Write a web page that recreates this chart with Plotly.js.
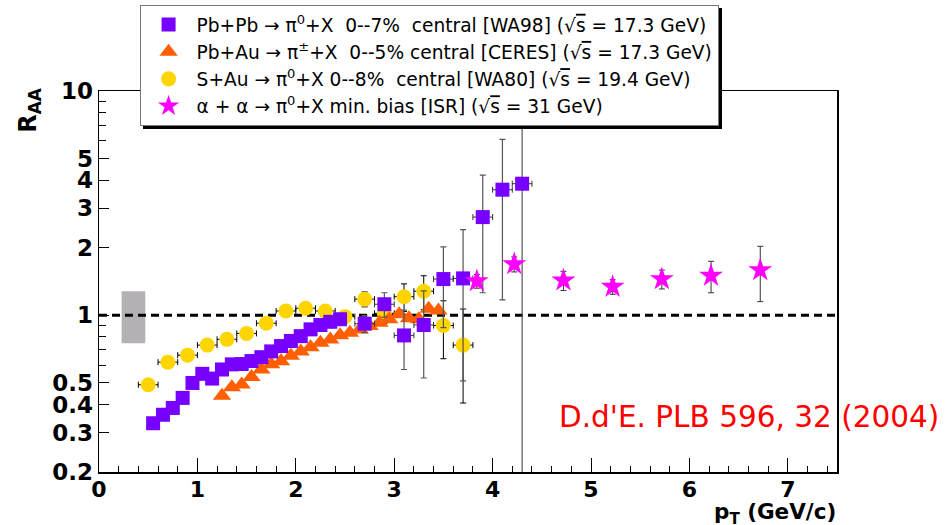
<!DOCTYPE html>
<html>
<head>
<meta charset="utf-8">
<script src="https://cdn.plot.ly/plotly-3.0.1.min.js"></script>
<style>
html,body{margin:0;padding:0;background:#fff;}
#chart{width:948px;height:525px;}
#chart .legend rect.bg{filter:drop-shadow(3px 3px 0 #000);}
</style>
</head>
<body>
<div id="chart"></div>
<script>
// ---- data ----
// WA98 Pb+Pb -> pi0 (0-7% central)
const wa98PT   = [0.55,0.65,0.75,0.85,0.95,1.05,1.15,1.25,1.35,1.45,1.55,1.65,1.75,1.85,1.95,2.05,2.15,2.25,2.35,2.45,2.7,2.9,3.1,3.3,3.5,3.7,3.9,4.1,4.3];
const wa98R    = [0.330,0.360,0.386,0.428,0.499,0.548,0.522,0.573,0.604,0.606,0.625,0.650,0.690,0.729,0.768,0.807,0.865,0.905,0.935,0.960,0.917,1.12,0.813,0.905,1.45,1.46,2.74,3.63,3.86];
const wa98ErrUp= [0,0,0,0,0,0,0,0,0,0,0,0,0,0,0,0.02,0.03,0.03,0.04,0.04,0.08,0.14,0.24,0.38,0.57,0.95,1.48,2.46,7.0];
const wa98ErrDn= [0,0,0,0,0,0,0,0,0,0,0,0,0,0,0,0.02,0.03,0.03,0.04,0.04,0.08,0.14,0.24,0.38,0.57,0.95,1.48,2.46,3.85];
const wa98XErr = [0.05,0.05,0.05,0.05,0.05,0.05,0.05,0.05,0.05,0.05,0.05,0.05,0.05,0.05,0.05,0.05,0.05,0.05,0.05,0.05,0.1,0.1,0.1,0.1,0.1,0.1,0.1,0.1,0.1];

// CERES Pb+Au -> pi+- (0-5% central)
const ceresPT = [1.25,1.35,1.45,1.55,1.65,1.75,1.85,1.95,2.05,2.15,2.25,2.35,2.45,2.55,2.65,2.75,2.85,2.95,3.05,3.15,3.25,3.35,3.45];
const ceresR  = [0.438,0.477,0.491,0.530,0.573,0.604,0.624,0.660,0.690,0.720,0.754,0.780,0.815,0.836,0.865,0.895,0.927,0.960,1.010,0.970,0.960,1.070,1.050];

// WA80 S+Au -> pi0 (0-8% central)
const wa80PT  = [0.5,0.7,0.9,1.1,1.3,1.5,1.7,1.9,2.1,2.3,2.5,2.7,2.9,3.1,3.3,3.5,3.7];
const wa80R   = [0.490,0.618,0.664,0.736,0.781,0.830,0.921,1.045,1.075,1.045,0.986,1.18,1.02,1.21,1.28,0.90,0.736];
const wa80Err = [0.01,0.01,0.01,0.01,0.01,0.01,0.02,0.02,0.03,0.03,0.05,0.09,0.10,0.17,0.22,0.26,0.33];
const wa80XErr= [0.1,0.1,0.1,0.1,0.1,0.1,0.1,0.1,0.1,0.1,0.1,0.1,0.1,0.1,0.1,0.1,0.1];

// ISR alpha+alpha -> pi0 (min. bias)
const isrPT  = [3.84,4.22,4.72,5.22,5.72,6.22,6.72];
const isrR   = [1.42,1.69,1.43,1.34,1.45,1.50,1.59];
const isrErr = [0.10,0.13,0.14,0.10,0.14,0.24,0.44];

// reference line R_AA = 1 and normalisation uncertainty box
const unityX = [0, 7.5];
const unityY = [1, 1];
const normBoxPT = [0.23, 0.47];
const normBoxR  = [0.75, 1.28];

// axis ticks
const yTickVals  = [0.2,0.3,0.4,0.5,1,2,3,4,5,10];
const yTickText  = ['0.2','0.3','0.4','0.5','1','2','3','4','5','10'];
const yMinorVals = [0.6,0.7,0.8,0.9,6,7,8,9];
const xTickVals  = [0,1,2,3,4,5,6,7];

const sqrtS = '√<span style="text-decoration:overline">s</span>';
const nb = '\u00a0';
const names = [
  'Pb+Pb → π<sup>0</sup>+X'+nb+nb+'0--7%'+nb+nb+'central [WA98] ('+sqrtS+' = 17.3 GeV)',
  'Pb+Au → π<sup>±</sup>+X'+nb+nb+'0--5% central [CERES] ('+sqrtS+' = 17.3 GeV)',
  'S+Au → π<sup>0</sup>+X 0--8%'+nb+nb+'central [WA80] ('+sqrtS+' = 19.4 GeV)',
  'α + α → π<sup>0</sup>+X min. bias [ISR] ('+sqrtS+' = 31 GeV)'
];

const FONT = 'DejaVu Sans, Liberation Sans, Arial, sans-serif';

const traces = [
  {x:[normBoxPT[0],normBoxPT[1],normBoxPT[1],normBoxPT[0],normBoxPT[0]],
   y:[normBoxR[0],normBoxR[0],normBoxR[1],normBoxR[1],normBoxR[0]],
   type:'scatter',mode:'lines',fill:'toself',fillcolor:'#b3b1b4',line:{width:0,color:'#b3b1b4'},
   showlegend:false,hoverinfo:'skip'},
  {x:unityX,y:unityY,type:'scatter',mode:'lines',line:{color:'#000',width:3,dash:'8px,5px'},
   showlegend:false,hoverinfo:'skip'},
  {x:wa80PT,y:wa80R,type:'scatter',mode:'markers',name:names[2],legendrank:3,legendgroup:'c',
   marker:{symbol:'circle',size:15,color:'#ffd500'},
   error_y:{type:'data',array:wa80Err,color:'#000',thickness:1,width:3},
   error_x:{type:'data',array:wa80XErr,color:'#000',thickness:1,width:3}},
  {x:ceresPT,y:ceresR,type:'scatter',mode:'markers',name:names[1],legendrank:2,legendgroup:'b',
   marker:{symbol:'triangle-up',size:16,color:'#ff5f00'}},
  {x:wa98PT,y:wa98R,type:'scatter',mode:'markers',name:names[0],legendrank:1,legendgroup:'a',
   marker:{symbol:'square',size:14,color:'#7700ff'},
   error_y:{type:'data',symmetric:false,array:wa98ErrUp,arrayminus:wa98ErrDn,color:'#555',thickness:1.2,width:3},
   error_x:{type:'data',array:wa98XErr,color:'#333',thickness:1,width:3}},
  {x:isrPT,y:isrR,type:'scatter',mode:'markers',name:names[3],legendrank:4,legendgroup:'d',
   marker:{symbol:'star',size:18,color:'#ff00ff'},
   error_y:{type:'data',array:isrErr,color:'#333',thickness:1,width:3}}
];

const layout = {
  width:948,height:525,
  paper_bgcolor:'#fff',plot_bgcolor:'#fff',
  margin:{l:99,r:111,t:91,b:53,autoexpand:false},
  font:{family:FONT,color:'#000'},
  showlegend:true,
  legend:{x:0.055,xanchor:'left',y:1.226,yanchor:'top',bgcolor:'#fff',bordercolor:'#777',borderwidth:1,
          font:{size:18.6,family:FONT},traceorder:'grouped',tracegroupgap:0,itemwidth:46},
  xaxis:{range:[0,7.5],showgrid:false,zeroline:false,showline:true,linecolor:'#000',linewidth:1.5,mirror:true,
         ticks:'inside',ticklen:14,tickwidth:1,tickcolor:'#000',tickvals:xTickVals,ticklabelstandoff:-3,
         tickfont:{size:22,family:FONT,weight:'bold'},
         minor:{dtick:0.2,ticks:'inside',ticklen:6,tickcolor:'#000',tickwidth:1,showgrid:false}},
  yaxis:{type:'log',range:[Math.log10(0.2),1],showgrid:false,zeroline:false,showline:true,linecolor:'#000',linewidth:1.5,mirror:true,
         ticks:'inside',ticklen:10,tickwidth:1,tickcolor:'#000',tickvals:yTickVals,ticktext:yTickText,
         tickfont:{size:23,family:FONT,weight:'bold'},
         minor:{tickvals:yMinorVals,ticks:'inside',ticklen:7,tickcolor:'#000',tickwidth:1,showgrid:false}},
  annotations:[
    {text:'<b>R<sub>AA</sub></b>',xref:'paper',yref:'paper',x:-0.094,y:1.01,xanchor:'center',yanchor:'top',
     textangle:-90,showarrow:false,font:{size:24,family:FONT}},
    {text:'<b>p<sub>T</sub> (GeV/c)</b>',xref:'paper',yref:'paper',x:1.0,y:-0.068,xanchor:'right',yanchor:'top',
     showarrow:false,borderpad:0,font:{size:21.5,family:FONT}},
    {text:"D.d'E. PLB 596, 32 (2004)",xref:'paper',yref:'paper',x:0.62,y:0.145,xanchor:'left',yanchor:'middle',
     showarrow:false,font:{size:29.5,color:'#ff0000',family:FONT}}
  ]
};

Plotly.newPlot('chart',traces,layout,{displayModeBar:false,staticPlot:true});
</script>
</body>
</html>
